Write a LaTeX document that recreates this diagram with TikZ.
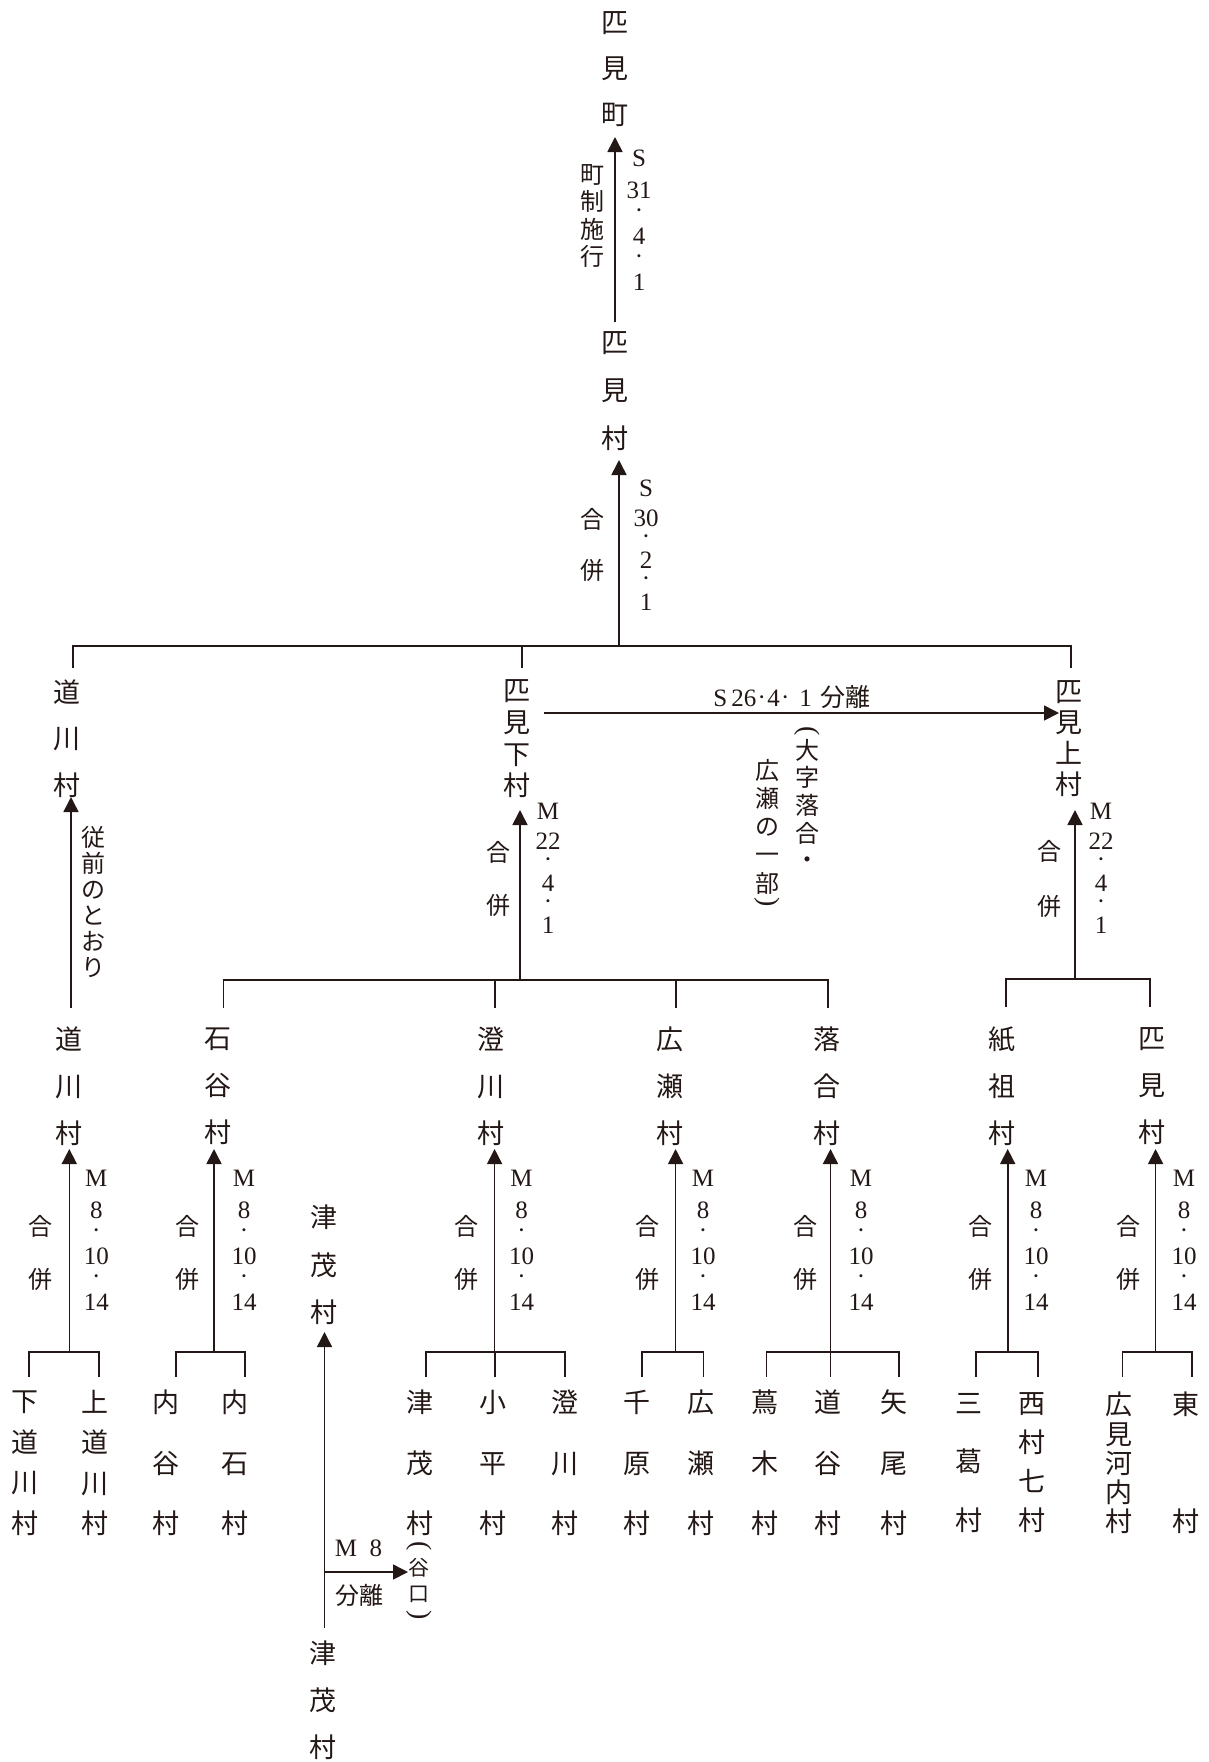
\documentclass[tikz,border=0pt]{standalone}
\usepackage{fontspec}
\setmainfont{Liberation Serif}
\newfontfamily\jp{Noto Sans CJK JP}
\usetikzlibrary{arrows.meta}
\definecolor{ink}{RGB}{35,24,21}
\newcommand\jdot{\raisebox{1pt}{\textperiodcentered}}
\newcommand\dateM{M\\[7pt]8\\[-4pt]\jdot\\10\\[-4pt]\jdot\\14}
\newcommand\dateMM{M\\[7pt]22\\[-3pt]\jdot\\4\\[-3pt]\jdot\\1}
\begin{document}
\begin{tikzpicture}[x=1pt,y=-1pt,color=ink,line width=1.6pt,
 vill/.style={font=\jp\fontsize{27}{#1}\selectfont,align=center,inner sep=0pt},
 smj/.style={font=\jp\fontsize{24}{#1}\selectfont,align=center,inner sep=0pt},
 tinyj/.style={font=\jp\fontsize{21}{#1}\selectfont,align=center,inner sep=0pt},
 lat/.style={font=\fontsize{25}{#1}\selectfont,align=center,inner sep=0pt},
 paren/.style={font=\fontsize{28}{28}\selectfont,inner sep=0pt,rotate=-90},
 arr/.style={-{Triangle[length=15pt,width=15pt]}},
 brk/.style={line width=1.8pt}]
\useasboundingbox (0,0) rectangle (1208,1762);

% ---------------- top: town
\node[vill=46] (town) at (615,69) {匹\\見\\町};
\coordinate (tA) at (615,137);
\coordinate (bA) at (615,322);
\draw[arr] (bA) -- (tA);
\node[smj=27.3] (lA1) at (592,216) {町\\制\\施\\行};
\node[lat=25] (lA2) at (639,220) {S\\[7pt]31\\[-4pt]\jdot\\4\\[-4pt]\jdot\\1};

\node[vill=48] (himi) at (615,391) {匹\\見\\村};
\coordinate (tB) at (619,460);
\coordinate (jB) at (619,646);
\draw[arr] (jB) -- (tB);
\node[smj=51] (lB1) at (592,544.5) {合\\併};
\node[lat=22.5] (lB2) at (646,545) {S\\[7pt]30\\[-3pt]\jdot\\2\\[-3pt]\jdot\\1};

% bar 1
\coordinate (b1a) at (73,646);
\coordinate (b1b) at (521.6,646);
\coordinate (b1c) at (1071,646);
\draw[brk] ([yshift=-22pt]b1a) -- (b1a) -- (b1c) -- ([yshift=-22pt]b1c);
\draw[brk] (b1b) -- ([yshift=-22pt]b1b);

% ---------------- tier 2
\node[vill=46.7] (michiA) at (67,738.5) {道\\川\\村};
\node[vill=31.7] (shimo) at (517,739) {匹\\見\\下\\村};
\node[vill=31] (kami) at (1069,738.5) {匹\\見\\上\\村};

\coordinate (hs) at (544,713);
\coordinate (he) at (1059,713);
\draw[arr] (hs) -- (he);
\node[lat=25] (l26) at (792,697) {S\,26\kern.05em\jdot\kern.05em4\kern.05em\jdot\hspace{.4em}1\hspace{.35em}{\jp 分離}};
\node[paren] (p1) at (807,731) {(};
\node[smj=27.7] (oaza) at (807,791.5) {大\\字\\落\\合};
\node[inner sep=0pt,font=\jp\fontsize{24}{24}\selectfont] (odot) at (807,863) {・};
\node[smj=28.25] (hiro) at (767,826.5) {広\\瀬\\の\\一\\部};
\node[paren] (p2) at (767,902) {)};

\coordinate (tS) at (520,810);
\coordinate (jS) at (520,980);
\draw[arr] (jS) -- (tS);
\node[smj=53] (lS1) at (498,878.5) {合\\併};
\node[lat=22.5] (lS2) at (548,868.5) {\dateMM};

\coordinate (tK) at (1075,810);
\coordinate (jK) at (1075,979);
\draw[arr] (jK) -- (tK);
\node[smj=55] (lK1) at (1049,879) {合\\併};
\node[lat=22.5] (lK2) at (1101,868.5) {\dateMM};

\coordinate (tM) at (71,797);
\coordinate (jM) at (71,1008);
\draw[arr] (jM) -- (tM);
\node[smj=26] (lM1) at (93.5,901.7) {従\\前\\の\\と\\お\\り};

% bar 2 and bar 3
\coordinate (b2a) at (223.4,980);
\coordinate (b2b) at (494.6,980);
\coordinate (b2c) at (675.6,980);
\coordinate (b2d) at (828,980);
\draw[brk] ([yshift=-28pt]b2a) -- (b2a) -- (b2d) -- ([yshift=-28pt]b2d);
\draw[brk] (b2b) -- ([yshift=-28pt]b2b);
\draw[brk] (b2c) -- ([yshift=-28pt]b2c);
\coordinate (b3a) at (1006,979);
\coordinate (b3b) at (1150,979);
\draw[brk] ([yshift=-28pt]b3a) -- (b3a) -- (b3b) -- ([yshift=-28pt]b3b);

% ---------------- tier 3 villages
\node[vill=47] (v1) at (69.3,1086) {道\\川\\村};
\node[vill=47] (v2) at (218,1086) {石\\谷\\村};
\node[vill=47] (v3) at (490.7,1086) {澄\\川\\村};
\node[vill=47] (v4) at (670,1086) {広\\瀬\\村};
\node[vill=47] (v5) at (826.6,1086) {落\\合\\村};
\node[vill=47] (v6) at (1001.5,1086) {紙\\祖\\村};
\node[vill=47] (v7) at (1151.7,1086) {匹\\見\\村};

% arrows tier 3
\foreach \i/\x/\gx/\mx in {1/69.3/40/96.3, 2/214/187/244, 3/494.6/466/521.6, 4/675.6/647/703, 5/830.5/805/861, 6/1007.7/980/1036, 7/1155.6/1128.6/1184}{
  \coordinate (t3\i) at (\x,1149);
  \coordinate (j3\i) at (\x,1352);
  \draw[arr] (j3\i) -- (t3\i);
  \node[smj=52.5] (g3\i) at (\gx,1253) {合\\併};
  \node[lat=25] (m3\i) at (\mx,1240) {\dateM};
}

% leaf brackets
\draw[brk] (29.3,1377) -- (29.3,1352) -- (98.6,1352) -- (98.6,1377);
\draw[brk] (175.7,1377) -- (175.7,1352) -- (245,1352) -- (245,1377);
\draw[brk] (426,1377) -- (426,1352) -- (564.7,1352) -- (564.7,1377);
\draw[brk] (494.6,1352) -- (494.6,1377);
\draw[brk] (641.7,1377) -- (641.7,1352) -- (703.4,1352) -- (703.4,1377);
\draw[brk] (766.5,1377) -- (766.5,1352) -- (899,1352) -- (899,1377);
\draw[brk] (830.5,1352) -- (830.5,1377);
\draw[brk] (976,1377) -- (976,1352) -- (1037.7,1352) -- (1037.7,1377);
\draw[brk] (1122.5,1377) -- (1122.5,1352) -- (1191.8,1352) -- (1191.8,1377);

% leaves
\node[vill=40.5] (x1) at (25.4,1463) {下\\道\\川\\村};
\node[vill=40.5] (x2) at (94.8,1463) {上\\道\\川\\村};
\node[vill=60.5] (x3) at (165.6,1463) {内\\谷\\村};
\node[vill=60.5] (x4) at (235,1463) {内\\石\\村};
\node[vill=60.5] (x5) at (420,1463) {津\\茂\\村};
\node[vill=60.5] (x6) at (493,1463) {小\\平\\村};
\node[vill=60.5] (x7) at (564.7,1463) {澄\\川\\村};
\node[vill=60.5] (x8) at (637,1463) {千\\原\\村};
\node[vill=60.5] (x9) at (701,1463) {広\\瀬\\村};
\node[vill=60.5] (x10) at (765,1463) {蔦\\木\\村};
\node[vill=60.5] (x11) at (828,1463) {道\\谷\\村};
\node[vill=60.5] (x12) at (893.7,1463) {矢\\尾\\村};
\node[vill=58.5] (x13) at (969,1463) {三\\葛\\村};
\node[vill=39] (x14) at (1032,1463) {西\\村\\七\\村};
\node[vill=29.2] (x15) at (1118.6,1463) {広\\見\\河\\内\\村};
\node[vill=117] (x16) at (1186.4,1463) {東\\村};

% ---------------- Tsumo
\node[vill=47.5] (tsu1) at (323.6,1265) {津\\茂\\村};
\coordinate (tT) at (324.5,1332);
\coordinate (bT) at (324.5,1628);
\draw[arr] (bT) -- (tT);
\coordinate (hT) at (324.5,1572);
\coordinate (eT) at (408,1572);
\draw[arr] (hT) -- (eT);
\node[lat=25] (lT1) at (358.5,1548) {M\enspace8};
\node[smj=24] (lT2) at (359,1595) {分離};
\node[paren] (p3) at (419,1546) {(};
\node[tinyj=26] (tani) at (419,1580) {谷\\口};
\node[paren] (p4) at (419,1615) {)};
\node[vill=47] (tsu2) at (323,1700) {津\\茂\\村};
\end{tikzpicture}
\end{document}
